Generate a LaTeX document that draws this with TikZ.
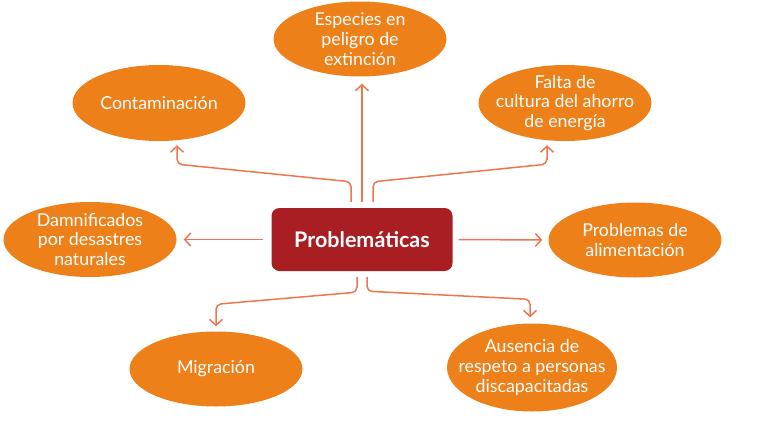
\documentclass[tikz,border=0pt]{standalone}
\usepackage{fontspec}
\setmainfont{Lato}
\usetikzlibrary{arrows.meta,calc,shapes.geometric}
\definecolor{bubble}{RGB}{238,128,26}
\definecolor{link}{RGB}{238,118,78}
\definecolor{core}{RGB}{168,30,35}
\tikzset{
  bubble/.style={ellipse, fill=bubble, text=white, minimum width=173pt, minimum height=75pt, inner xsep=-30pt, inner ysep=-10pt, align=center, font=\fontsize{17.8}{19.8}\selectfont},
  core/.style={rectangle, rounded corners=8pt, fill=core, text=white, minimum width=181pt, minimum height=63pt, font=\fontsize{21.5}{24}\selectfont\bfseries},
  link/.style={draw=link, line width=1.5pt, rounded corners=5pt, -{Straight Barb[length=6pt,width=13pt,line width=1.5pt]}}
}
\begin{document}
\begin{tikzpicture}[x=1pt,y=-1pt]
\useasboundingbox (0,0) rectangle (767,436);
\node[core] (P) at (362,239.5) {Problemáticas};
\node[bubble] (esp) at (360,39) {Especies en\\peligro de\\extinción};
\node[bubble, minimum height=76pt] (cont) at (159,103) {Contaminación};
\node[bubble, minimum height=76pt] (falta) at (565,103) {Falta de\\cultura del ahorro\\de energía};
\node[bubble] (dam) at (90,239.5) {Damnificados\\por desastres\\naturales};
\node[bubble] (prob) at (635,240) {Problemas de\\alimentación};
\node[bubble] (mig) at (216,369) {Migración};
\node[bubble, minimum width=170pt, minimum height=88pt] (aus) at (532,367.5) {Ausencia de\\respeto a personas\\discapacitadas};
% connectors
\draw[link] ($(P.north)+(-11,-6)$) -- ++(0,-20) -- ($(cont.south)+(18,23)$) -- ($(cont.south)+(18,4)$);
\draw[link] ($(P.north)+(0,-6)$) -- ($(esp.south)+(2,7)$);
\draw[link] ($(P.north)+(11,-6)$) -- ++(0,-20) -- ($(falta.south)+(-18,23)$) -- ($(falta.south)+(-18,4)$);
\draw[link] ($(P.west)+(-8,0)$) -- ($(dam.east)+(7,0)$);
\draw[link] ($(P.east)+(6,0)$) -- ($(prob.west)+(-6,0)$);
\draw[link] ($(P.south)+(-5,6)$) -- ++(0,15) -- ($(mig.north)+(0,-27)$) -- ($(mig.north)+(0,-5)$);
\draw[link] ($(P.south)+(5,6)$) -- ++(0,14) -- ($(aus.north)+(-2,-24)$) -- ($(aus.north)+(-2,-6)$);
\end{tikzpicture}
\end{document}
